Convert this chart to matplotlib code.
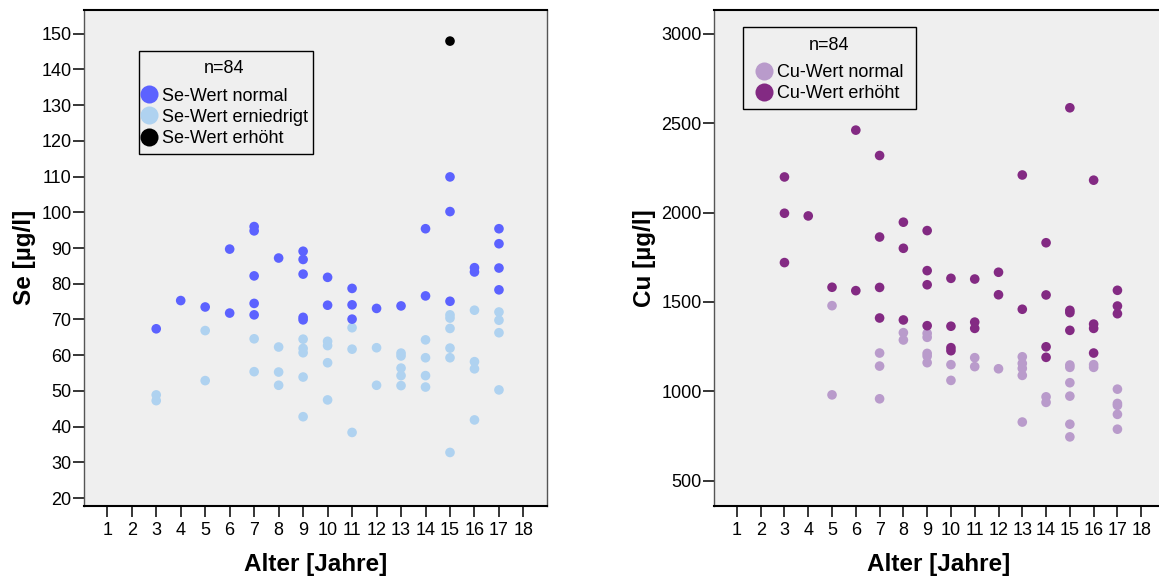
import matplotlib
matplotlib.use("Agg")
import matplotlib.pyplot as plt
from matplotlib.lines import Line2D
from matplotlib.patches import Rectangle

plt.rcParams['font.family'] = ['Liberation Sans', 'DejaVu Sans']

# ---------------- Se data ----------------
se_normal_age = [3, 4, 5, 6, 6, 7, 7, 7, 7, 7, 8, 9, 9, 9, 9, 9, 10, 10, 11, 11, 11,
                 12, 13, 14, 14, 15, 15, 15, 16, 16, 17, 17, 17, 17]
se_normal_val = [67.4, 75.3, 73.5, 71.8, 89.7, 96.0, 94.8, 82.2, 74.5, 71.3, 87.2,
                 89.1, 86.8, 82.7, 70.6, 69.9, 81.8, 74.0, 78.7, 74.1, 70.1,
                 73.1, 73.8, 95.4, 76.6, 109.9, 100.2, 75.1, 84.5, 83.3,
                 95.4, 91.2, 84.4, 78.3]

se_low_age = [3, 3, 5, 5, 7, 7, 8, 8, 8, 9, 9, 9, 9, 9, 10, 10, 10, 10, 11, 11, 11,
              12, 12, 13, 13, 13, 13, 13, 14, 14, 14, 14, 15, 15, 15, 15, 15, 15,
              16, 16, 16, 16, 17, 17, 17, 17]
se_low_val = [48.9, 47.3, 66.9, 52.9, 64.6, 55.4, 62.3, 55.3, 51.6,
              64.5, 61.9, 60.7, 53.9, 42.8, 63.9, 62.7, 57.9, 47.5,
              67.7, 61.7, 38.4, 62.1, 51.6, 60.6, 59.8, 56.4, 54.3, 51.5,
              64.3, 59.3, 54.3, 51.1, 71.3, 70.4, 67.5, 62.0, 59.3, 32.8,
              72.6, 58.2, 56.2, 41.9, 72.1, 69.8, 66.3, 50.3]

se_high_age = [15]
se_high_val = [147.9]

# ---------------- Cu data ----------------
cu_normal_age = [5, 5, 7, 7, 7, 8, 8, 9, 9, 9, 9, 9, 10, 10, 11, 11, 12,
                 13, 13, 13, 13, 13, 14, 14, 15, 15, 15, 15, 15, 15,
                 16, 16, 17, 17, 17, 17, 17]
cu_normal_val = [1479, 980, 1214, 1141, 958, 1328, 1287, 1324, 1302, 1212, 1197, 1160,
                 1149, 1061, 1188, 1138, 1126, 1193, 1156, 1128, 1089, 828,
                 969, 938, 1147, 1134, 1048, 973, 816, 745, 1149, 1134,
                 1012, 932, 921, 871, 788]

cu_high_age = [3, 3, 3, 4, 5, 6, 6, 7, 7, 7, 7, 8, 8, 8, 9, 9, 9, 9,
               10, 10, 10, 10, 11, 11, 11, 12, 12, 13, 13, 14, 14, 14, 14,
               15, 15, 15, 15, 16, 16, 16, 16, 17, 17, 17]
cu_high_val = [2199, 1996, 1720, 1981, 1582, 2461, 1563, 2319, 1863, 1581, 1410,
               1946, 1800, 1399, 1899, 1675, 1596, 1367, 1632, 1364, 1244, 1227,
               1628, 1387, 1352, 1666, 1540, 2210, 1459, 1831, 1539, 1249, 1190,
               2586, 1453, 1440, 1341, 2181, 1376, 1352, 1214, 1565, 1477, 1434]

x_ticks = list(range(1, 19))
se_yticks = list(range(20, 151, 10))
cu_yticks = [500, 1000, 1500, 2000, 2500, 3000]

se_labels = ['Se-Wert normal', 'Se-Wert erniedrigt', 'Se-Wert erhöht']
cu_labels = ['Cu-Wert normal', 'Cu-Wert erhöht']
legend_title = 'n=84'

C_SE_NORMAL = '#5C62FF'
C_SE_LOW = '#AFD2F0'
C_SE_HIGH = '#000000'
C_CU_NORMAL = '#B99BCB'
C_CU_HIGH = '#832A83'
BG = '#EFEFEF'

W, H = 1159, 576
fig = plt.figure(figsize=(W / 100, H / 100), dpi=100)

AX_T, AX_B = 10, 505.7
L1, R1 = 84, 546.7
L2, R2 = 714.3, 1163.8


def px_axes(l, r, t, b):
    return fig.add_axes([l / W, 1 - b / H, (r - l) / W, (b - t) / H])


ax1 = px_axes(L1, R1, AX_T, AX_B)
ax2 = px_axes(L2, R2, AX_T, AX_B)

MS = 48


def style(ax, ylim, yticks, ylabel):
    ax.set_facecolor(BG)
    ax.set_xlim(0.05, 18.95)
    ax.set_ylim(*ylim)
    ax.set_xticks(x_ticks)
    ax.set_yticks(yticks)
    ax.tick_params(axis='both', direction='out', length=8, width=1.1,
                   labelsize=13, colors='black')
    ax.tick_params(axis='y', pad=1)
    ax.tick_params(axis='x', pad=4)
    for s in ['left', 'right']:
        ax.spines[s].set_color('#555555')
        ax.spines[s].set_linewidth(1.0)
    for s in ['top', 'bottom']:
        ax.spines[s].set_color('black')
        ax.spines[s].set_linewidth(1.5)
    ax.set_xlabel('Alter [Jahre]', fontsize=17.5, fontweight='bold', labelpad=10)
    ax.set_ylabel(ylabel, fontsize=17.5, fontweight='bold', labelpad=4)


# Left panel
ax1.scatter(se_low_age, se_low_val, s=MS, color=C_SE_LOW, edgecolors='none', zorder=3)
ax1.scatter(se_normal_age, se_normal_val, s=MS, color=C_SE_NORMAL, edgecolors='none', zorder=3)
ax1.scatter(se_high_age, se_high_val, s=MS, color=C_SE_HIGH, edgecolors='none', zorder=3)
style(ax1, (17.9, 156.6), se_yticks, 'Se [µg/l]')

# Right panel
ax2.scatter(cu_normal_age, cu_normal_val, s=MS, color=C_CU_NORMAL, edgecolors='none', zorder=3)
ax2.scatter(cu_high_age, cu_high_val, s=MS, color=C_CU_HIGH, edgecolors='none', zorder=3)
style(ax2, (360, 3133), cu_yticks, 'Cu [µg/l]')


def make_legend(ax, ax_l, ax_r, colors, labels, box, content_xy):
    # box: (left, top, right, bottom) in figure pixels
    aw, ah = ax_r - ax_l, AX_B - AX_T
    bl, bt, br, bb = box
    rect = Rectangle(((bl - ax_l) / aw, (AX_B - bb) / ah), (br - bl) / aw, (bb - bt) / ah,
                     transform=ax.transAxes, facecolor=BG, edgecolor='black',
                     linewidth=1.0, zorder=4)
    ax.add_patch(rect)
    handles = [Line2D([], [], linestyle='none', marker='o', markersize=13,
                      markerfacecolor=c, markeredgecolor='none') for c in colors]
    cx, cy = content_xy
    leg = ax.legend(handles, labels, title=legend_title, loc='upper left',
                    bbox_to_anchor=((cx - ax_l) / aw, (AX_B - cy) / ah),
                    borderaxespad=0, borderpad=0, fontsize=13,
                    title_fontsize=13, frameon=False,
                    handlelength=1.0, handletextpad=0.2, labelspacing=0.23)
    leg.set_zorder(5)
    leg._legend_box.sep = 7.6
    return leg


make_legend(ax1, L1, R1, [C_SE_NORMAL, C_SE_LOW, C_SE_HIGH], se_labels,
            (139.3, 50.7, 313.3, 153.7), (140.3, 60.0))
make_legend(ax2, L2, R2, [C_CU_NORMAL, C_CU_HIGH], cu_labels,
            (742.7, 27.3, 915.7, 109.0), (755.0, 36.6))

fig.savefig('out.png', dpi=100)
